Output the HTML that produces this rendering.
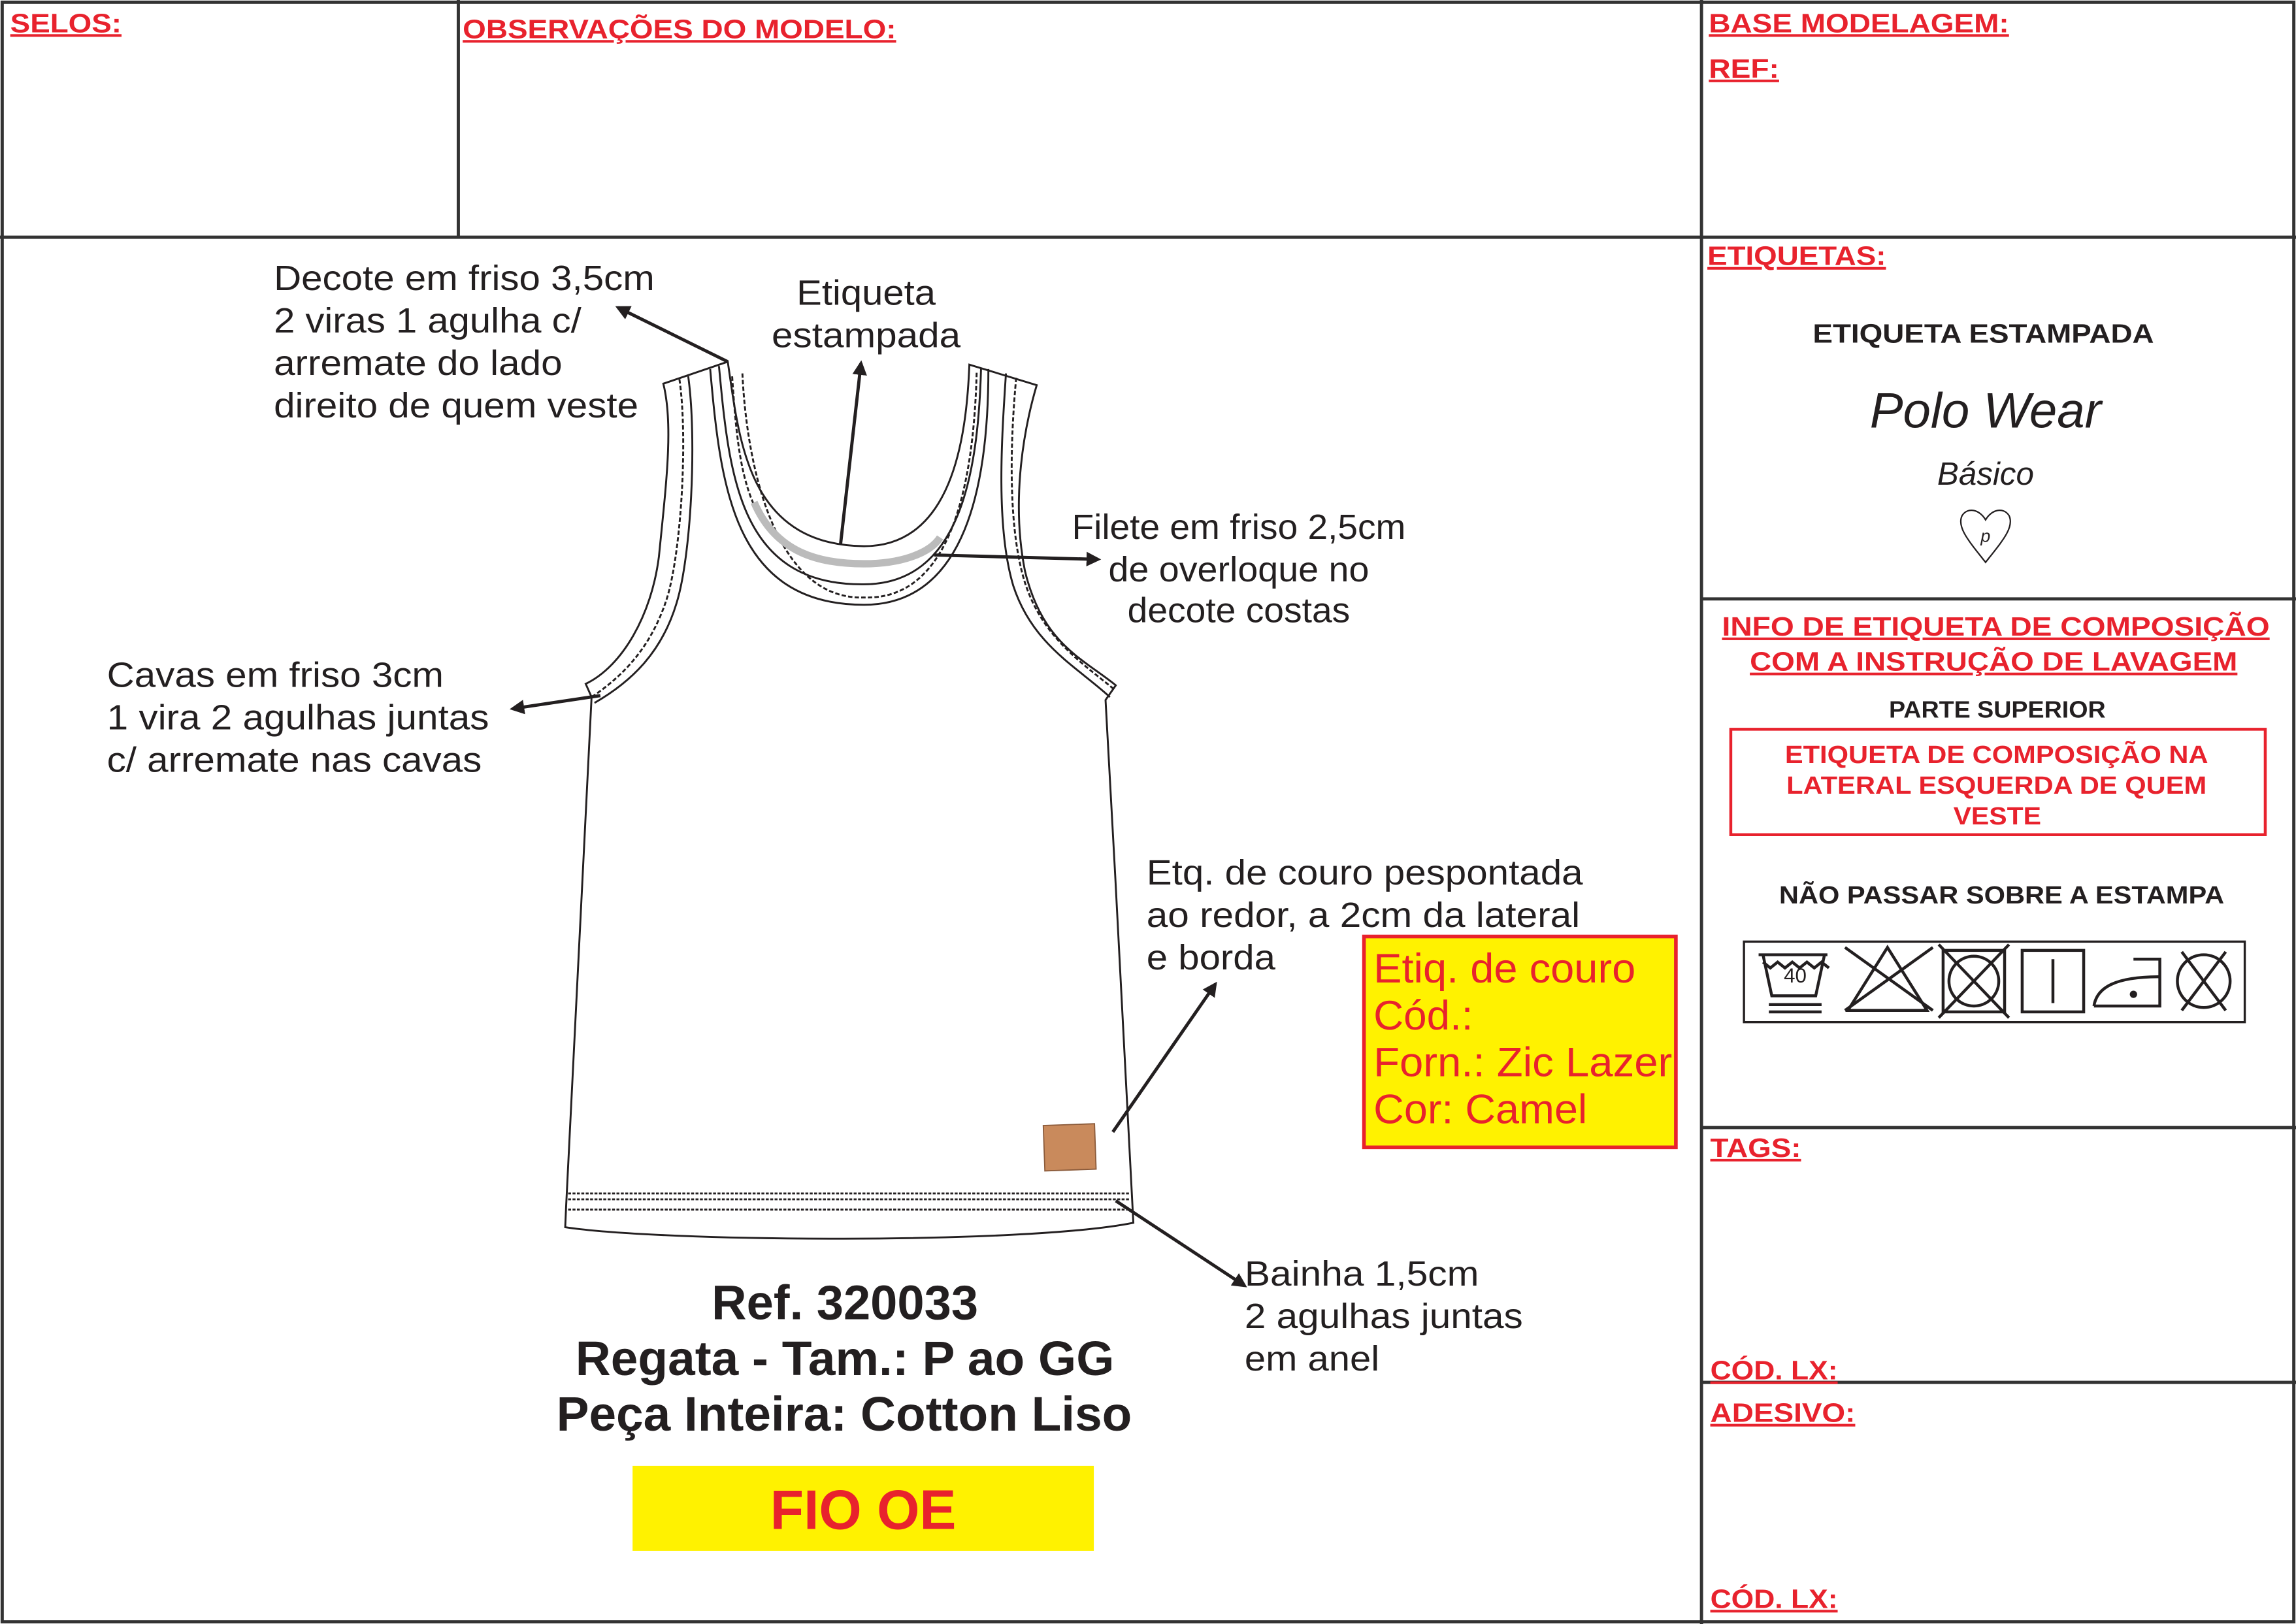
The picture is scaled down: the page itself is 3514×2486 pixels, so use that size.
<!DOCTYPE html>
<html><head><meta charset="utf-8"><style>
html,body{margin:0;padding:0;background:#fff;}
svg{display:block;}
text{font-family:"Liberation Sans",Arial,sans-serif;}
.h{fill:#e8222d;font-weight:bold;font-size:18px;text-decoration:underline;}
.t{fill:#231f20;font-size:24px;}
.b{fill:#231f20;font-weight:bold;}
.r{fill:#e8222d;font-weight:bold;}
</style></head><body>
<svg width="3514" height="2486" viewBox="0 0 1568 1109" preserveAspectRatio="none" xmlns="http://www.w3.org/2000/svg">
<defs>
<marker id="ah" markerWidth="10" markerHeight="10" refX="8" refY="5" orient="auto" markerUnits="userSpaceOnUse"><path d="M0,0 L10,5 L0,10 Z" fill="#231f20"/></marker>
</defs>
<rect x="0" y="0" width="1568" height="1109" fill="#fff"/>
<g stroke="#333" stroke-width="2.2" fill="none">
<rect x="1.5" y="1.5" width="1565" height="1106"/>
<line x1="0" y1="162" x2="1568" y2="162"/>
<line x1="313" y1="0" x2="313" y2="162"/>
<line x1="1162" y1="0" x2="1162" y2="1109"/>
<line x1="1162" y1="409" x2="1568" y2="409"/>
<line x1="1162" y1="770" x2="1568" y2="770"/>
<line x1="1162" y1="944" x2="1568" y2="944"/>
</g>
<g lengthAdjust="spacingAndGlyphs">
<text class="h" x="7" y="22" textLength="76" lengthAdjust="spacingAndGlyphs">SELOS:</text>
<text class="h" x="316" y="26" textLength="296" lengthAdjust="spacingAndGlyphs">OBSERVAÇÕES DO MODELO:</text>
<text class="h" x="1167" y="22" textLength="205" lengthAdjust="spacingAndGlyphs">BASE MODELAGEM:</text>
<text class="h" x="1167" y="53" textLength="48" lengthAdjust="spacingAndGlyphs">REF:</text>
<text class="h" x="1166" y="181" textLength="122" lengthAdjust="spacingAndGlyphs">ETIQUETAS:</text>
<text class="b" x="1238" y="234" font-size="18" textLength="233" lengthAdjust="spacingAndGlyphs">ETIQUETA ESTAMPADA</text>
</g>
<text x="1356" y="292" font-size="34" font-style="italic" text-anchor="middle" font-family="Liberation Serif,serif" fill="#231f20">Polo Wear</text>
<text x="1356" y="331" font-size="22" font-style="italic" text-anchor="middle" font-family="Liberation Serif,serif" fill="#231f20">Básico</text>
<path d="M1356,384 C1345,370 1336,360 1340,352 C1344,346 1352,348 1356,355 C1360,348 1368,346 1372,352 C1376,360 1367,370 1356,384 Z" fill="none" stroke="#231f20" stroke-width="1"/>
<text x="1356" y="370" font-size="12" font-style="italic" text-anchor="middle" font-family="Liberation Serif,serif" fill="#231f20">p</text>
<text class="h" x="1176" y="434" font-size="19" textLength="374" lengthAdjust="spacingAndGlyphs">INFO DE ETIQUETA DE COMPOSIÇÃO</text>
<text class="h" x="1195" y="458" font-size="19" textLength="333" lengthAdjust="spacingAndGlyphs">COM A INSTRUÇÃO DE LAVAGEM</text>
<text class="b" x="1290" y="490" font-size="16" textLength="148" lengthAdjust="spacingAndGlyphs">PARTE SUPERIOR</text>
<rect x="1182" y="498" width="365" height="72" fill="none" stroke="#e8222d" stroke-width="2"/>
<text class="r" x="1219" y="521" font-size="17" textLength="289" lengthAdjust="spacingAndGlyphs">ETIQUETA DE COMPOSIÇÃO NA</text>
<text class="r" x="1220" y="542" font-size="17" textLength="287" lengthAdjust="spacingAndGlyphs">LATERAL ESQUERDA DE QUEM</text>
<text class="r" x="1334" y="563" font-size="17" textLength="60" lengthAdjust="spacingAndGlyphs">VESTE</text>
<text class="b" x="1215" y="617" font-size="17" textLength="304" lengthAdjust="spacingAndGlyphs">NÃO PASSAR SOBRE A ESTAMPA</text>
<rect x="1191" y="643" width="342" height="55" fill="none" stroke="#231f20" stroke-width="1.5"/>
<g stroke="#231f20" stroke-width="2" fill="none">
<path d="M1201,652 L1248,652 M1204,652 L1210,680 L1240,680 L1246,652"/>
<path d="M1204,657 l5,4 5,-4 5,4 5,-4 5,4 5,-4 5,4 5,-4 5,4"/>
<line x1="1208" y1="686" x2="1244" y2="686"/><line x1="1208" y1="691" x2="1244" y2="691"/>
<path d="M1289,647 L1262,690 L1316,690 Z"/><line x1="1260" y1="690" x2="1320" y2="647"/><line x1="1260" y1="647" x2="1320" y2="690"/>
<rect x="1327" y="649" width="42" height="42"/><circle cx="1348" cy="670" r="17"/><line x1="1324" y1="645" x2="1372" y2="695"/><line x1="1372" y1="645" x2="1324" y2="695"/>
<rect x="1381" y="649" width="42" height="42"/><line x1="1402" y1="655" x2="1402" y2="685"/>
<path d="M1430,687 L1475,687 L1475,655 L1457,655 M1430,687 C1432,674 1445,667 1475,667"/>
<circle cx="1505" cy="670" r="18"/><line x1="1490" y1="650" x2="1520" y2="690"/><line x1="1520" y1="650" x2="1490" y2="690"/>
</g>
<circle cx="1457" cy="679" r="2.5" fill="#231f20"/>
<text x="1226" y="671" font-size="14" text-anchor="middle" fill="#231f20">40</text>
<text class="h" x="1168" y="790" textLength="62" lengthAdjust="spacingAndGlyphs">TAGS:</text>
<text class="h" x="1168" y="942" textLength="87" lengthAdjust="spacingAndGlyphs">CÓD. LX:</text>
<text class="h" x="1168" y="971" textLength="99" lengthAdjust="spacingAndGlyphs">ADESIVO:</text>
<text class="h" x="1168" y="1098" textLength="87" lengthAdjust="spacingAndGlyphs">CÓD. LX:</text>

<!-- garment -->
<g stroke="#231f20" stroke-width="1.3" fill="none">
<path d="M453,262 L497,247 C505,300 510,372 590,373 C650,373 660,300 662,249 L708,263 C700,290 690,340 700,390 C712,440 740,450 762,468 L755,478 C762,600 770,760 774,835 C700,850 450,848 386,838 C392,700 400,560 404,476 L400,467 C425,455 445,420 450,380 C455,330 460,290 453,262 Z"/>
<path d="M485,252 C492,330 500,413 590,413 C660,413 675,330 675,252"/>
<path d="M491,250 C498,325 505,400 590,399 C655,399 668,325 670,251"/>
<path d="M464,259 C470,300 465,380 455,410 C445,440 428,460 404,476" stroke-dasharray="3,1.5"/>
<path d="M470,257 C476,300 472,380 462,412 C452,445 432,465 406,480"/>
<path d="M687,255 C684,300 680,360 692,400 C705,440 735,455 758,476"/>
<path d="M694,258 C690,300 688,360 700,398 C712,435 738,452 760,470" stroke-dasharray="3,1.5"/>
<path d="M500,257 C505,330 510,386 590,386" stroke-dasharray="3,1.5"/>
<path d="M507,255 C510,320 530,410 590,408 C650,410 665,330 667,254" stroke-dasharray="3,1.5"/>
<line x1="388" y1="815" x2="771" y2="815" stroke-dasharray="2,1"/>
<line x1="388" y1="819" x2="771" y2="819" stroke-dasharray="2,1"/>
<line x1="388" y1="826" x2="772" y2="826" stroke-dasharray="2,1"/>
</g>
<path d="M515,343 C530,378 560,385 590,385 C615,385 635,378 642,367" stroke="#bbb" stroke-width="5" fill="none"/>
<rect x="713" y="768" width="35" height="31" fill="#c98a5c" stroke="#8a5a3a" stroke-width="0.8" transform="rotate(-2 730 783)"/>

<!-- arrows -->
<g stroke="#231f20" stroke-width="2.2" fill="none" marker-end="url(#ah)">
<line x1="497" y1="247" x2="422" y2="210"/>
<line x1="574" y1="372" x2="588" y2="248"/>
<line x1="638" y1="379" x2="750" y2="382"/>
<line x1="410" y1="475" x2="350" y2="484"/>
<line x1="760" y1="773" x2="830" y2="672"/>
<line x1="762" y1="820" x2="850" y2="878"/>
</g>

<text class="t" x="187" y="198" textLength="260" lengthAdjust="spacingAndGlyphs">Decote em friso 3,5cm</text>
<text class="t" x="187" y="227" textLength="210" lengthAdjust="spacingAndGlyphs">2 viras 1 agulha c/</text>
<text class="t" x="187" y="256" textLength="197" lengthAdjust="spacingAndGlyphs">arremate do lado</text>
<text class="t" x="187" y="285" textLength="249" lengthAdjust="spacingAndGlyphs">direito de quem veste</text>
<text class="t" x="544" y="208" textLength="95" lengthAdjust="spacingAndGlyphs">Etiqueta</text>
<text class="t" x="527" y="237" textLength="129" lengthAdjust="spacingAndGlyphs">estampada</text>
<text class="t" x="732" y="368" textLength="228" lengthAdjust="spacingAndGlyphs">Filete em friso 2,5cm</text>
<text class="t" x="757" y="397" textLength="178" lengthAdjust="spacingAndGlyphs">de overloque no</text>
<text class="t" x="770" y="425" textLength="152" lengthAdjust="spacingAndGlyphs">decote costas</text>
<text class="t" x="73" y="469" textLength="230" lengthAdjust="spacingAndGlyphs">Cavas em friso 3cm</text>
<text class="t" x="73" y="498" textLength="261" lengthAdjust="spacingAndGlyphs">1 vira 2 agulhas juntas</text>
<text class="t" x="73" y="527" textLength="256" lengthAdjust="spacingAndGlyphs">c/ arremate nas cavas</text>
<text class="t" x="783" y="604" textLength="298" lengthAdjust="spacingAndGlyphs">Etq. de couro pespontada</text>
<text class="t" x="783" y="633" textLength="296" lengthAdjust="spacingAndGlyphs">ao redor, a 2cm da lateral</text>
<text class="t" x="783" y="662" textLength="88" lengthAdjust="spacingAndGlyphs">e borda</text>
<rect x="931.5" y="639.5" width="213" height="144" fill="#fff200" stroke="#e8222d" stroke-width="2.5"/>
<g fill="#e8222d" font-size="28">
<text x="938" y="671" textLength="179" lengthAdjust="spacingAndGlyphs">Etiq. de couro</text>
<text x="938" y="703" textLength="68" lengthAdjust="spacingAndGlyphs">Cód.:</text>
<text x="938" y="735" textLength="204" lengthAdjust="spacingAndGlyphs">Forn.: Zic Lazer</text>
<text x="938" y="767" textLength="146" lengthAdjust="spacingAndGlyphs">Cor: Camel</text>
</g>
<text class="t" x="850" y="878" textLength="160" lengthAdjust="spacingAndGlyphs">Bainha 1,5cm</text>
<text class="t" x="850" y="907" textLength="190" lengthAdjust="spacingAndGlyphs">2 agulhas juntas</text>
<text class="t" x="850" y="936" textLength="92" lengthAdjust="spacingAndGlyphs">em anel</text>
<text class="b" x="486" y="901" font-size="33" textLength="182" lengthAdjust="spacingAndGlyphs">Ref. 320033</text>
<text class="b" x="393" y="939" font-size="33" textLength="368" lengthAdjust="spacingAndGlyphs">Regata - Tam.: P ao GG</text>
<text class="b" x="380" y="977" font-size="33" textLength="393" lengthAdjust="spacingAndGlyphs">Peça Inteira: Cotton Liso</text>
<rect x="432" y="1001" width="315" height="58" fill="#fff200"/>
<text class="r" x="526" y="1044" font-size="38" textLength="127" lengthAdjust="spacingAndGlyphs">FIO OE</text>
</svg>
</body></html>
